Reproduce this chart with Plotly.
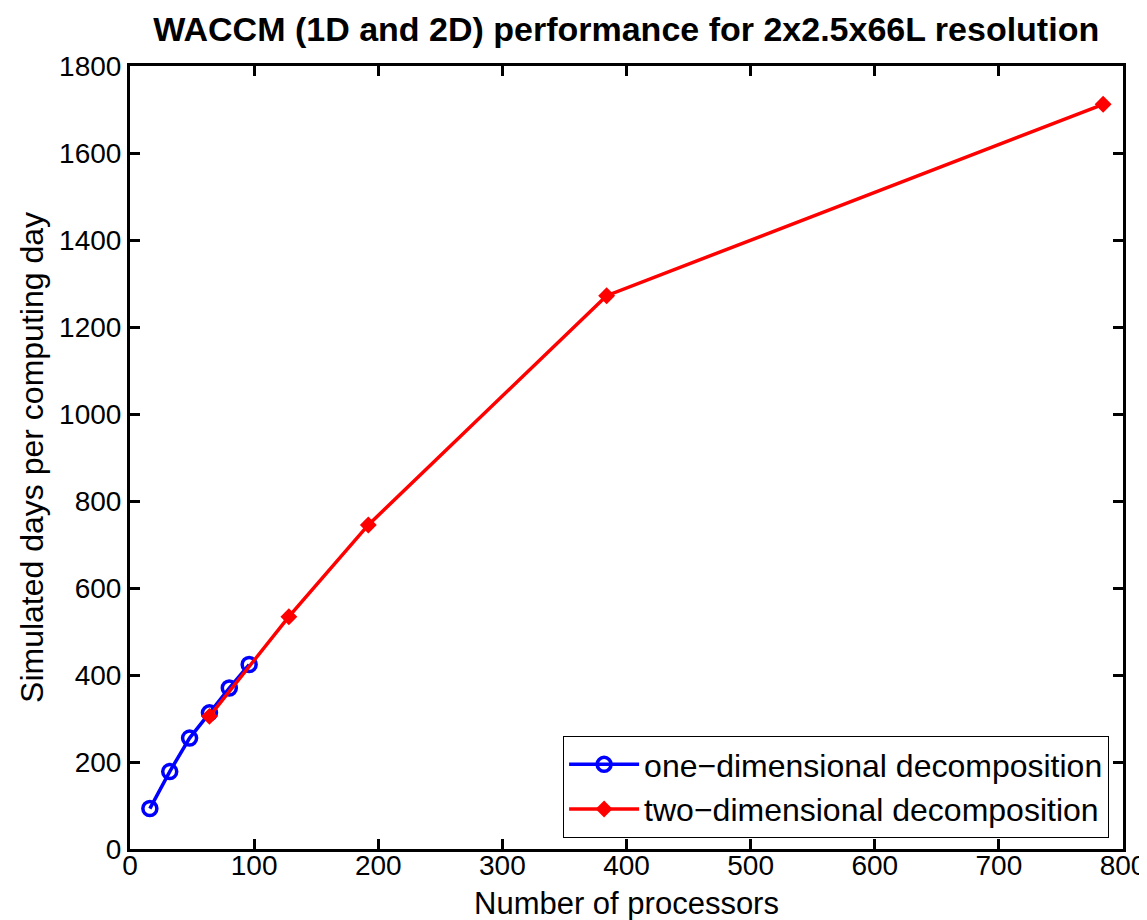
import plotly.graph_objects as go

x_1d = [16, 32, 48, 64, 80, 96]
y_1d = [93, 178, 255, 313, 370, 424]
x_2d = [64, 128, 192, 384, 784]
y_2d = [305, 534, 745, 1272, 1712]

x_ticks = [0, 100, 200, 300, 400, 500, 600, 700, 800]
y_ticks = [0, 200, 400, 600, 800, 1000, 1200, 1400, 1600, 1800]

FONT = "Liberation Sans, Arial, sans-serif"

fig = go.Figure()
fig.add_trace(go.Scatter(
    x=x_1d, y=y_1d, mode="lines+markers", name="one\u2212dimensional decomposition",
    line=dict(color="#0000ff", width=3.5),
    marker=dict(symbol="circle-open", size=14, color="#0000ff", line=dict(width=3.5)),
))
fig.add_trace(go.Scatter(
    x=x_2d, y=y_2d, mode="lines+markers", name="two\u2212dimensional decomposition",
    line=dict(color="#ff0000", width=3.5),
    marker=dict(symbol="diamond", size=13, color="#ff0000"),
))
# invisible carrier trace so the tick-label axis (x2) is drawn
fig.add_trace(go.Scatter(
    x=x_2d, y=y_2d, xaxis="x2", mode="markers", marker=dict(opacity=0),
    showlegend=False, hoverinfo="skip",
))

axis_common = dict(
    showline=True, linecolor="black", linewidth=3, mirror="ticks",
    ticks="inside", ticklen=10, tickwidth=3, tickcolor="black",
    showgrid=False, zeroline=False, automargin=False,
)

fig.update_layout(
    width=1147, height=920,
    paper_bgcolor="white", plot_bgcolor="white",
    margin=dict(l=122, r=32, t=58, b=79, autoexpand=False),
    title=dict(text="<b>WACCM (1D and 2D) performance for 2x2.5x66L resolution</b>",
               x=0.539, xanchor="center", y=0.99, yanchor="top",
               font=dict(family=FONT, size=34, color="black")),
    xaxis=dict(range=[0, 800], tickvals=x_ticks, showticklabels=False, **axis_common),
    xaxis2=dict(range=[0, 800], tickvals=x_ticks, overlaying="x", anchor="free",
                position=0.004, side="bottom", showline=False, ticks="",
                showgrid=False, zeroline=False, automargin=False,
                tickfont=dict(family=FONT, size=28, color="black")),
    yaxis=dict(range=[0, 1800], tickvals=y_ticks, **axis_common,
               tickfont=dict(family=FONT, size=28, color="black"),
               title=dict(text="Simulated days per computing day", standoff=6,
                          font=dict(family=FONT, size=32, color="black"))),
    legend=dict(x=0.986, y=0.014, xanchor="right", yanchor="bottom",
                bgcolor="white", bordercolor="black", borderwidth=1,
                font=dict(family=FONT, size=32, color="black"),
                itemwidth=70, tracegroupgap=0),
    showlegend=True,
)

fig.add_annotation(
    text="Number of processors", xref="paper", yref="paper",
    x=0.5, y=-0.0702, xanchor="center", yanchor="middle", showarrow=False,
    font=dict(family=FONT, size=31, color="black"),
)

fig.write_html("out.html")
